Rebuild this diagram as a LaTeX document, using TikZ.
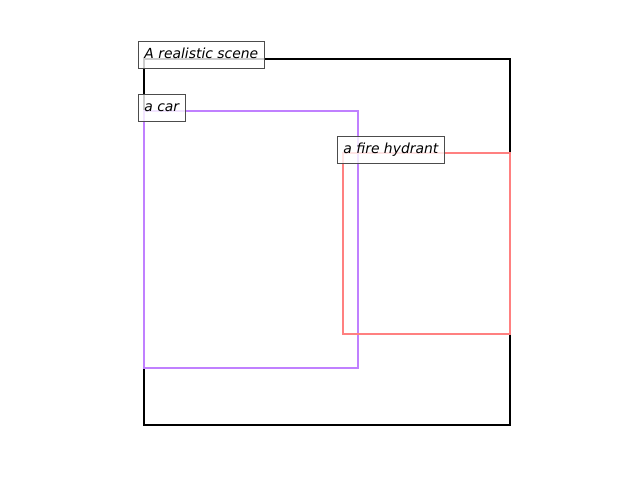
\documentclass[tikz,border=0pt]{standalone}
\usepackage{fontspec}
\usepackage{xcolor}
\newfontfamily\plotfont{DejaVu Sans}
\definecolor{carcol}{HTML}{C080FF}
\definecolor{hydcol}{HTML}{FF8080}

\begin{document}
\begin{tikzpicture}[x=1pt,y=-1pt,line cap=rect,line join=miter,
    regionbox/.style={line width=2pt},
    labelbox/.style={draw=black!70,line width=0.8pt,fill=white,fill opacity=0.8,text opacity=1,
      anchor=north west,inner xsep=6.5pt,inner ysep=0pt,minimum height=27pt,
      text height=10.5pt,text depth=3pt,font=\plotfont\itshape\fontsize{13.9}{16}\selectfont}]
    \useasboundingbox (0,0) rectangle (640,480);
    % the boxes
    \draw[regionbox,black] (144,59) rectangle (510,425);
    \draw[regionbox,carcol] (144,111) rectangle (358,368);
    \draw[regionbox,hydcol] (343,153) rectangle (510,334);
    % their labels
    \node[labelbox] (scene) at (137.5,40.5) {A realistic scene};
    \node[labelbox] (car) at (137.5,93.5) {a car};
    \node[labelbox] (hydrant) at (336.5,135.5) {a fire hydrant};
  \end{tikzpicture}
\end{document}
